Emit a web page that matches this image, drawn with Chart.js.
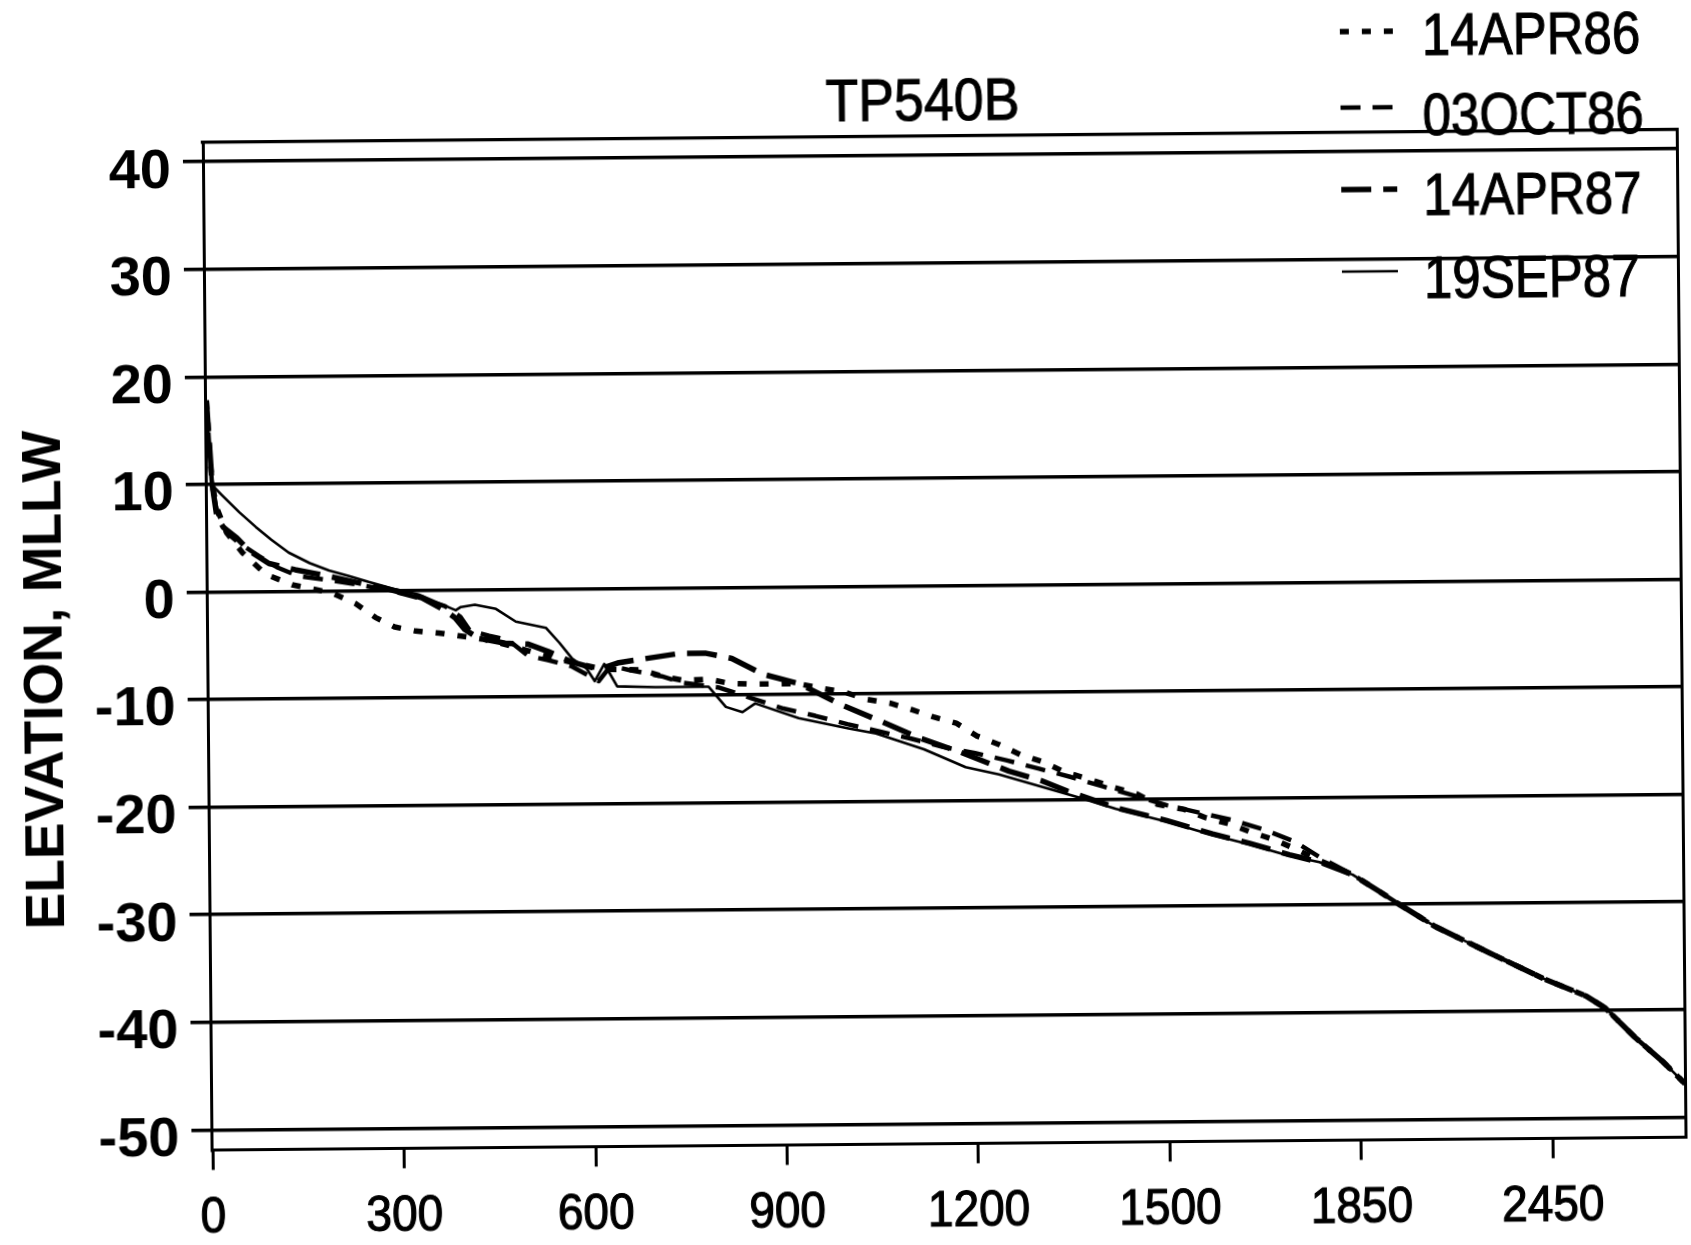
<!DOCTYPE html>
<html><head><meta charset="utf-8">
<script src="https://cdn.jsdelivr.net/npm/chart.js@4.4.1/dist/chart.umd.min.js"></script>
<style>
html,body{margin:0;padding:0;background:#fff;overflow:hidden;width:1691px;height:1245px;}
#wrap{position:absolute;left:0;top:0;width:1691px;height:1245px;transform:rotate(-0.5deg);transform-origin:845.5px 622.5px;background:#fff;}
#c{position:absolute;left:0;top:0;}
.t{position:absolute;white-space:nowrap;color:#000;line-height:1;}
.s{-webkit-text-stroke:1.1px #000;}
</style></head><body>
<div id="wrap">
<canvas id="c" width="1691" height="1245"></canvas>
<div id="title" class="t s">TP540B</div>
<div id="ytitle" class="t">ELEVATION, MLLW</div>
<div id="legend"></div>
</div>
<script>
// ---- data ----
const X_TICK_POS = [0, 300, 600, 900, 1200, 1500, 1800, 2100];
const X_TICK_LABELS = ['0', '300', '600', '900', '1200', '1500', '1850', '2450'];
const Y_TICKS = [-50, -40, -30, -20, -10, 0, 10, 20, 30, 40];
const SERIES_NAMES = ['14APR86', '03OCT86', '14APR87', '19SEP87'];

const s14APR86 = [[0,17.8],[4,13.5],[8,10],[15,7.8],[30,5.5],[55,3.6],[91,1.6],[132,0.6],[195,-0.2],[231,-1.2],[262,-2.5],[292,-3.4],[325,-3.8],[361,-4.0],[396,-4.3],[430,-4.6],[470,-5.2],[500,-5.7],[540,-6.4],[580,-7.0],[620,-7.5],[679,-7.6],[710,-8.2],[744,-8.6],[783,-8.5],[815,-8.9],[850,-9.0],[924,-9.0],[955,-9.4],[995,-9.8],[1030,-10.5],[1068,-10.9],[1101,-11.5],[1135,-12.2],[1171,-12.8],[1203,-14.0],[1237,-14.8],[1272,-15.8],[1308,-16.5],[1339,-17.4],[1383,-18.2],[1417,-18.9],[1452,-19.5],[1485,-20.5],[1527,-21.0],[1561,-21.8],[1598,-22.4],[1633,-23.2],[1668,-23.9],[1702,-24.8],[1740,-25.9],[1790,-27.2],[1832,-28.8],[1860,-29.9],[1919,-32.1],[2004,-34.6],[2087,-37.0],[2155,-38.7],[2184,-39.8],[2231,-42.6],[2273,-44.8],[2308,-46.9]];

const s03OCT86 = [[0,17.8],[4,13.5],[8,9.8],[15,7.5],[30,5.5],[50,4.5],[80,3.3],[110,2.2],[142,1.4],[190,1.0],[231,0.6],[278,0.1],[335,-0.8],[371,-1.5],[395,-2.5],[410,-3.8],[440,-4.3],[470,-4.7],[501,-6.2],[532,-6.6],[569,-7.2],[611,-8.6],[630,-7.2],[660,-7.6],[710,-8.2],[741,-8.8],[800,-9.3],[850,-10.3],[900,-11.3],[950,-12.0],[1000,-12.8],[1050,-13.5],[1100,-14.2],[1150,-15.0],[1200,-15.6],[1250,-16.3],[1300,-17.1],[1350,-17.9],[1400,-18.8],[1450,-19.7],[1500,-20.6],[1550,-21.3],[1600,-22.0],[1650,-22.9],[1700,-24.1],[1740,-25.6],[1790,-27.2],[1832,-28.8],[1860,-29.9],[1919,-32.1],[2004,-34.6],[2087,-37.0],[2155,-38.7],[2184,-39.8],[2231,-42.6],[2273,-44.8],[2308,-46.9]];

const s14APR87 = [[0,17.8],[4,14],[8,10],[15,7.0],[25,6.0],[46,5.0],[65,3.8],[96,2.6],[137,2.0],[179,1.5],[231,0.8],[278,0.2],[335,-0.7],[371,-1.9],[387,-2.6],[402,-3.7],[423,-4.5],[465,-5.0],[501,-5.1],[532,-5.8],[569,-6.8],[611,-7.5],[643,-6.9],[690,-6.5],[737,-6.1],[780,-6.1],[820,-6.6],[869,-8.1],[925,-9.0],[991,-11.0],[1054,-12.6],[1111,-14.1],[1177,-15.5],[1253,-17.3],[1303,-18.2],[1344,-19.2],[1420,-20.8],[1498,-22.0],[1571,-23.3],[1629,-24.2],[1691,-25.3],[1738,-26.0],[1790,-27.2],[1832,-28.8],[1860,-29.9],[1919,-32.1],[2004,-34.6],[2087,-37.0],[2155,-38.7],[2184,-39.8],[2231,-42.6],[2273,-44.8],[2308,-46.9]];

const s19SEP87 = [[0,17.8],[3,14.5],[6,11.5],[10,9.8],[23,9.0],[50,7.4],[76,6.0],[100,4.8],[127,3.6],[160,2.6],[190,1.9],[220,1.4],[252,0.8],[294,0.1],[330,-0.4],[361,-1.2],[388,-1.9],[396,-1.6],[418,-1.4],[451,-1.8],[482,-3.0],[529,-3.6],[550,-5.0],[570,-6.5],[592,-7.4],[605,-8.6],[620,-7.0],[640,-9.1],[700,-9.2],[783,-9.2],[810,-11.1],[836,-11.6],[856,-10.8],[924,-12.2],[1002,-13.2],[1045,-13.7],[1120,-15.2],[1185,-16.9],[1237,-17.6],[1300,-18.7],[1362,-19.8],[1420,-20.9],[1498,-22.1],[1571,-23.4],[1629,-24.3],[1691,-25.4],[1738,-26.0],[1790,-27.2],[1832,-28.8],[1860,-29.9],[1919,-32.1],[2004,-34.6],[2087,-37.0],[2155,-38.7],[2184,-39.8],[2231,-42.6],[2273,-44.8],[2308,-46.9]];

// ---- styles ----
const SANS = "'Liberation Sans',Arial,Helvetica,sans-serif";
const X_LABEL_SQUEEZE = 0.92;
const LINE_STYLES = [
  {dash: [9, 13], width: 5.5},
  {dash: [20, 12], width: 4.5},
  {dash: [30, 12], width: 5.5},
  {dash: [], width: 2.6}
];

const seriesData = [s14APR86, s03OCT86, s14APR87, s19SEP87];
const datasets = seriesData.map((arr, i) => ({
  label: SERIES_NAMES[i],
  data: arr.map(p => ({x: p[0], y: p[1]})),
  xAxisID: 'x', yAxisID: 'y',
  borderColor: '#000', backgroundColor: '#000',
  borderWidth: LINE_STYLES[i].width, borderDash: LINE_STYLES[i].dash,
  borderCapStyle: 'butt', borderJoinStyle: 'round',
  pointRadius: 0, pointHoverRadius: 0, tension: 0, fill: false
}));

// draws the x tick labels a little condensed, like the original narrow typeface
function squeezeLabels(s) {
  if (s._squeezed) return;
  s._squeezed = true;
  const proto = Object.getPrototypeOf(s);
  s.drawLabels = function (area) {
    const ctx = this.ctx;
    const P = CanvasRenderingContext2D.prototype;
    ctx.fillText = function (t, x, y) {
      const w = P.measureText.call(this, t).width;
      return P.fillText.call(this, t, x, y, w * X_LABEL_SQUEEZE);
    };
    ctx.strokeText = function (t, x, y) {
      const w = P.measureText.call(this, t).width;
      return P.strokeText.call(this, t, x, y, w * X_LABEL_SQUEEZE);
    };
    try { proto.drawLabels.call(this, area); } finally { delete ctx.fillText; delete ctx.strokeText; }
  };
}

new Chart(document.getElementById('c'), {
  type: 'line',
  data: {datasets},
  options: {
    responsive: false, devicePixelRatio: 1, animation: false,
    layout: {padding: {top: 136.2, right: 10, left: 0, bottom: 0}},
    plugins: {legend: {display: false}, title: {display: false}, tooltip: {enabled: false}},
    scales: {
      x: {
        type: 'linear', position: 'bottom', min: -2, max: 2308,
        afterBuildTicks: s => { s.ticks = X_TICK_POS.map(v => ({value: v})); },
        afterFit: s => { s.height = 100.6; },
        afterUpdate: squeezeLabels,
        ticks: {autoSkip: false, maxRotation: 0, minRotation: 0, padding: 19, color: '#000',
          textStrokeColor: '#000', textStrokeWidth: 1.2,
          font: {family: SANS, size: 50},
          callback: v => { const i = X_TICK_POS.indexOf(v); return i < 0 ? '' : X_TICK_LABELS[i]; }},
        grid: {drawOnChartArea: false, drawTicks: true, tickLength: 20, color: '#000', lineWidth: 3},
        border: {display: true, color: '#000', width: 3}
      },
      y: {
        type: 'linear', position: 'left', min: -51.86, max: 41.85,
        afterBuildTicks: s => { s.ticks = Y_TICKS.map(v => ({value: v})); },
        afterFit: s => { s.width = 207; },
        ticks: {autoSkip: false, padding: 12, labelOffset: 10, color: '#000',
          font: {family: SANS, size: 56, weight: 'bold'}},
        grid: {drawTicks: true, tickLength: 20, color: '#000', lineWidth: 3.5},
        border: {display: true, color: '#000', width: 3}
      },
      xTop: {
        type: 'linear', position: 'top', min: -2, max: 2308,
        afterFit: s => { s.height = 0; },
        ticks: {display: false}, grid: {display: false, drawTicks: false},
        border: {display: true, color: '#000', width: 3.2}
      },
      yRight: {
        type: 'linear', position: 'right', min: -51.86, max: 41.85,
        afterFit: s => { s.width = 0; },
        ticks: {display: false}, grid: {display: false, drawTicks: false},
        border: {display: true, color: '#000', width: 3}
      }
    }
  }
});

// ---- title, axis title, legend (real text) ----
const title = document.getElementById('title');
title.style.font = '60px ' + SANS; title.style.lineHeight = '60px';
title.style.left = '726.5px'; title.style.width = '400px'; title.style.textAlign = 'center';
title.style.top = (100.7 - 0.4885 * 60) + 'px';
title.style.transform = 'scaleX(0.895)'; title.style.transformOrigin = '200px 50%';

const yt = document.getElementById('ytitle');
yt.style.font = 'bold 55px ' + SANS; yt.style.lineHeight = '55px';
yt.style.left = '42.5px'; yt.style.top = '673px';
yt.style.transform = 'translate(-50%,-50%) rotate(-90deg)';

const LEG_TEXT_Y = [39.5, 119.5, 199, 282.5];
const LEG_LINE_Y = [36, 112, 194, 276];
const legend = document.getElementById('legend');
SERIES_NAMES.forEach((name, i) => {
  const svgNS = 'http://www.w3.org/2000/svg';
  const svg = document.createElementNS(svgNS, 'svg');
  svg.setAttribute('width', '56'); svg.setAttribute('height', '20');
  svg.style.position = 'absolute'; svg.style.left = '1345px'; svg.style.top = (LEG_LINE_Y[i] - 10) + 'px';
  const ln = document.createElementNS(svgNS, 'line');
  ln.setAttribute('x1', '0'); ln.setAttribute('x2', i === 1 ? '52' : '56'); ln.setAttribute('y1', '10'); ln.setAttribute('y2', '10');
  ln.setAttribute('stroke', '#000'); ln.setAttribute('stroke-width', String(LINE_STYLES[i].width));
  if (LINE_STYLES[i].dash.length) ln.setAttribute('stroke-dasharray', LINE_STYLES[i].dash.join(' '));
  svg.appendChild(ln); legend.appendChild(svg);
  const d = document.createElement('div');
  d.className = 't s'; d.textContent = name;
  d.style.font = '60px ' + SANS; d.style.lineHeight = '60px';
  d.style.left = '1427px'; d.style.top = (LEG_TEXT_Y[i] - 0.4885 * 60) + 'px';
  d.style.transform = 'scaleX(0.85)'; d.style.transformOrigin = '0 50%';
  legend.appendChild(d);
});
</script>
</body></html>
